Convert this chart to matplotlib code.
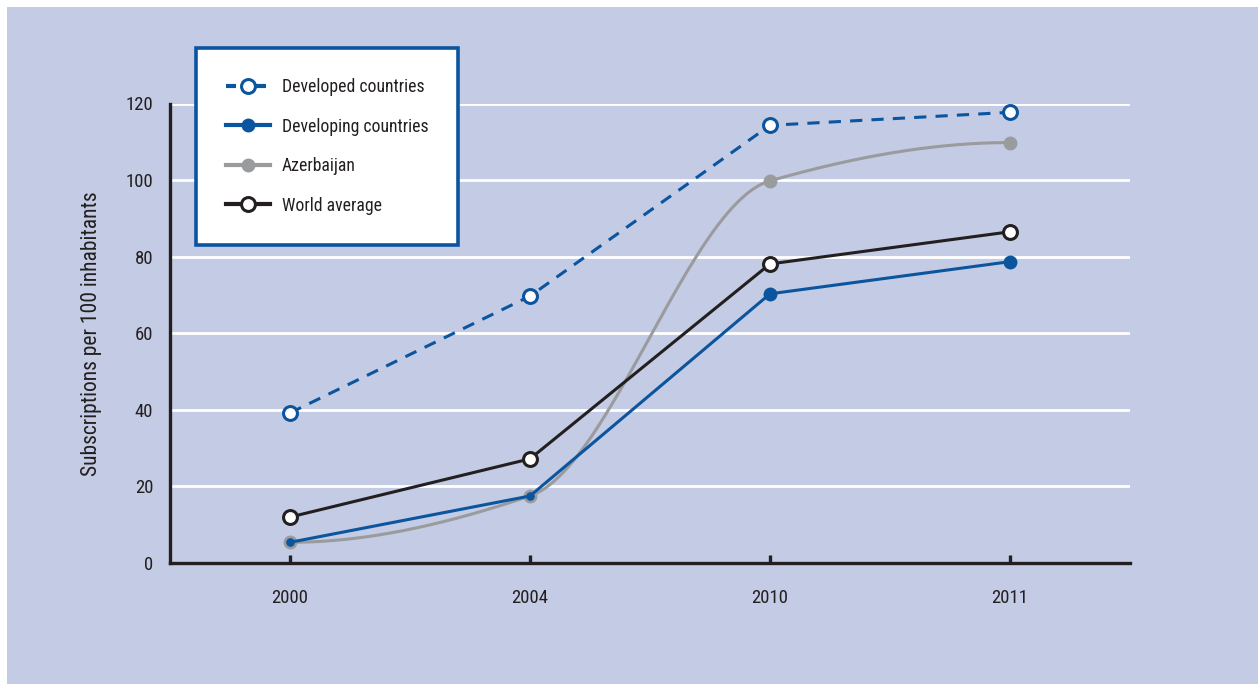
import numpy as np
import matplotlib
matplotlib.use("Agg")
import matplotlib.pyplot as plt
from matplotlib.lines import Line2D
from matplotlib.patches import Rectangle
from matplotlib import font_manager

# ---------------- data ----------------
years = ["2000", "2004", "2010", "2011"]
developed = [39.2, 69.7, 114.3, 117.7]
developing = [5.4, 17.5, 70.3, 78.7]
azerbaijan = [5.4, 17.5, 99.8, 109.8]
world = [12.0, 27.2, 78.1, 86.5]
yticks = [0, 20, 40, 60, 80, 100, 120]
ylabel = "Subscriptions per 100 inhabitants"
labels = ["Developed countries", "Developing countries", "Azerbaijan", "World average"]

# ---------------- fonts ----------------
narrow = None
for f in font_manager.fontManager.ttflist:
    nm = f.name
    if ("Narrow" in nm or "Condensed" in nm or str(f.stretch) in ("condensed", "semi-condensed", "extra-condensed")) \
            and f.style == "normal" and f.weight in (400, "normal", "regular", "book"):
        narrow = f
        if "Liberation" in nm or "Roboto" in nm:
            break
FNAME = narrow.fname if narrow is not None else None

plt.rcParams["font.family"] = ["Liberation Sans", "DejaVu Sans"]


def fprops(size):
    if FNAME:
        return font_manager.FontProperties(fname=FNAME, size=size)
    return font_manager.FontProperties(family=["Liberation Sans", "DejaVu Sans"], size=size * 0.9)


BG = "#c4cbe4"
BLUE = "#0b559f"
GRAY = "#9a9b9d"
BLACK = "#231f20"
LW = 2.2
MS = 10
MEW = 2.2

W, H = 1258, 684
fig = plt.figure(figsize=(W / 100, H / 100), dpi=100, facecolor="white")
fig.patches.append(Rectangle((7 / W, 0), 1 - 7 / W, 1 - 7 / H, transform=fig.transFigure,
                             facecolor=BG, edgecolor="none", zorder=-10))

ax = fig.add_axes([170 / W, 1 - 563 / H, (1130 - 170) / W, (563 - 103.5) / H])
ax.set_facecolor("none")

x = np.arange(len(years))


def pchip(xk, yk, xs):
    xk = np.asarray(xk, float)
    yk = np.asarray(yk, float)
    h = np.diff(xk)
    d = np.diff(yk) / h
    n = len(xk)
    m = np.zeros(n)
    for k in range(1, n - 1):
        if d[k - 1] * d[k] > 0:
            w1 = 2 * h[k] + h[k - 1]
            w2 = h[k] + 2 * h[k - 1]
            m[k] = (w1 + w2) / (w1 / d[k - 1] + w2 / d[k])

    def endslope(h0, h1, d0, d1):
        s = ((2 * h0 + h1) * d0 - h0 * d1) / (h0 + h1)
        if np.sign(s) != np.sign(d0):
            s = 0.0
        elif np.sign(d0) != np.sign(d1) and abs(s) > abs(3 * d0):
            s = 3 * d0
        return s
    m[0] = endslope(h[0], h[1], d[0], d[1])
    m[-1] = endslope(h[-1], h[-2], d[-1], d[-2])
    idx = np.clip(np.searchsorted(xk, xs) - 1, 0, n - 2)
    t = (xs - xk[idx]) / h[idx]
    h00 = 2 * t**3 - 3 * t**2 + 1
    h10 = t**3 - 2 * t**2 + t
    h01 = -2 * t**3 + 3 * t**2
    h11 = t**3 - t**2
    return h00 * yk[idx] + h10 * h[idx] * m[idx] + h01 * yk[idx + 1] + h11 * h[idx] * m[idx + 1]


ax.set_ylim(0, 120)
ax.set_xlim(-0.5, len(years) - 0.5)
ax.set_yticks(yticks)
ax.set_xticks(x)
ax.set_xticklabels(years)
ax.yaxis.grid(True, color="white", linewidth=2.0, zorder=1)
ax.set_axisbelow(True)

# Azerbaijan smooth curve
xs = np.linspace(0, len(years) - 1, 600)
ax.plot(xs, pchip(x, azerbaijan, xs), color=GRAY, lw=LW, zorder=3, solid_capstyle="round")
ax.plot(x, azerbaijan, ls="none", marker="o", ms=MS, mfc=GRAY, mec=GRAY, mew=0, zorder=4)

# Developing
dev = np.array(developing)
aze = np.array(azerbaijan)
same = np.isclose(dev, aze)
ax.plot(x, dev, color=BLUE, lw=LW, zorder=5)
ax.plot(x[~same], dev[~same], ls="none", marker="o", ms=MS, mfc=BLUE, mec=BLUE, mew=0, zorder=6)
ax.plot(x[same], dev[same], ls="none", marker="o", ms=MS * 0.62, mfc=BLUE, mec=BLUE, mew=0, zorder=6)

# World
ax.plot(x, world, color=BLACK, lw=LW, zorder=7, marker="o", ms=MS, mfc="white", mec=BLACK, mew=MEW)

# Developed (dashed)
ax.plot(x, developed, color=BLUE, lw=LW, ls=(0, (4.0, 3.0)), zorder=8,
        marker="o", ms=MS, mfc="white", mec=BLUE, mew=MEW)

for s in ["top", "right"]:
    ax.spines[s].set_visible(False)
for s in ["left", "bottom"]:
    ax.spines[s].set_color(BLACK)
    ax.spines[s].set_linewidth(2.4)
ax.tick_params(axis="y", length=0, pad=12, labelcolor=BLACK)
ax.tick_params(axis="x", direction="in", length=6, width=2.4, color=BLACK, pad=19, labelcolor=BLACK)
for lab in ax.get_xticklabels() + ax.get_yticklabels():
    lab.set_fontproperties(fprops(13.5))
ax.set_ylabel(ylabel, color=BLACK, labelpad=17, fontproperties=fprops(15.5))

LLW = 3.0
handles = [
    Line2D([], [], color=BLUE, lw=LLW, ls=(0, (2.4, 4.8)), marker="o", ms=MS, mfc="white", mec=BLUE, mew=MEW),
    Line2D([], [], color=BLUE, lw=LLW, marker="o", ms=MS, mfc=BLUE, mec=BLUE, mew=0),
    Line2D([], [], color=GRAY, lw=LLW, marker="o", ms=MS, mfc=GRAY, mec=GRAY, mew=0),
    Line2D([], [], color=BLACK, lw=LLW, marker="o", ms=MS, mfc="white", mec=BLACK, mew=MEW),
]
leg = fig.legend(handles, labels, loc="upper left", bbox_to_anchor=(196 / W, 1 - 48 / H),
                 frameon=True, fancybox=False, framealpha=1, facecolor="white", edgecolor=BLUE,
                 prop=fprops(12.7), handlelength=2.5, handletextpad=0.65, labelspacing=1.22,
                 borderpad=1.7, borderaxespad=0)
leg.get_frame().set_linewidth(2.6)
for t in leg.get_texts():
    t.set_color(BLACK)

fig.savefig("out.png", dpi=100, facecolor="white")
